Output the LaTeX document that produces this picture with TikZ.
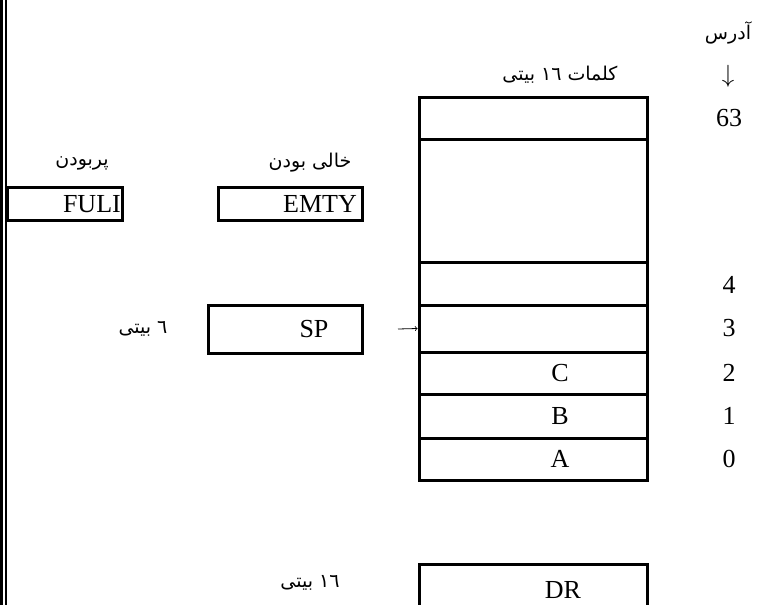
\documentclass[tikz,border=0pt]{standalone}
\usepackage{fontspec}
\setmainfont{Liberation Serif}
\newfontfamily\fafont[Script=Arabic]{DejaVu Sans}
\TeXXeTstate=1
\newcommand{\fa}[1]{{\fafont\beginR #1\endR}}

\begin{document}
\begin{tikzpicture}[x=1pt,y=-1pt,
        cell/.style={draw,line width=3pt,minimum width=228pt,inner sep=0pt},
        reg/.style={draw,line width=3pt,inner sep=0pt},
        txt/.style={inner sep=0pt,font=\fontsize{26}{30}\selectfont},
        fatxt/.style={inner sep=0pt,font=\fontsize{19}{23}\selectfont}]
        \useasboundingbox (0,0) rectangle (758,605);

        \draw[line width=3.5pt] (1.7,0) -- (1.7,605);
        \draw[line width=2pt] (6.3,0) -- (6.3,605);

        \node[fatxt] (adr) at (728,33) {\fa{آدرس}};
        \node[txt] (adrarrow) at (728,76) {$\downarrow$};
        \node[fatxt] (words) at (560,75) {\fa{کلمات ١٦ بیتی}};

        \node[cell,minimum height=42pt] (m63) at (533,118) {};
        \node[cell,minimum height=123pt] (mgap) at (533,200.5) {};
        \node[cell,minimum height=43pt] (m4) at (533,283.5) {};
        \node[cell,minimum height=47pt] (m3) at (533,328.5) {};
        \node[cell,minimum height=42pt] (m2) at (533,373) {};
        \node[cell,minimum height=44pt] (m1) at (533,416) {};
        \node[cell,minimum height=42pt] (m0) at (533,459) {};
        \node[txt] (vc) at (560,373) {C};
        \node[txt] (vb) at (560,416) {B};
        \node[txt] (va) at (560,459) {A};

        \node[txt] (a63) at (729,118) {63};
        \node[txt] (a4) at (729,285) {4};
        \node[txt] (a3) at (729,328) {3};
        \node[txt] (a2) at (729,373) {2};
        \node[txt] (a1) at (729,416) {1};
        \node[txt] (a0) at (729,459) {0};

        \node[fatxt] (lfull) at (82,163) {\fa{پربودن}};
        \node[reg,minimum width=115pt,minimum height=33pt] (fuli) at (64.5,203.5) {};
        \node[txt,anchor=east] (tfuli) at (121,204) {FULI};

        \node[fatxt] (lempty) at (310,163) {\fa{خالی بودن}};
        \node[reg,minimum width=144pt,minimum height=33pt] (emty) at (290,203.5) {};
        \node[txt,anchor=east] (temty) at (357,204) {EMTY};

        \node[fatxt] (lsp) at (143,329) {\fa{٦ بیتی}};
        \node[reg,minimum width=154pt,minimum height=48pt] (sp) at (285,329) {};
        \node[txt] (tsp) at (314,329) {SP};
        \coordinate (spout) at (398,329);
        \draw[->,line width=0.8pt] (spout) -- (m3.west);

        \node[fatxt] (ldr) at (310,583) {\fa{١٦ بیتی}};
        \node[cell,minimum height=60pt] (dr) at (533,594) {};
        \node[txt] (tdr) at (563,590) {DR};

    \end{tikzpicture}
\end{document}
